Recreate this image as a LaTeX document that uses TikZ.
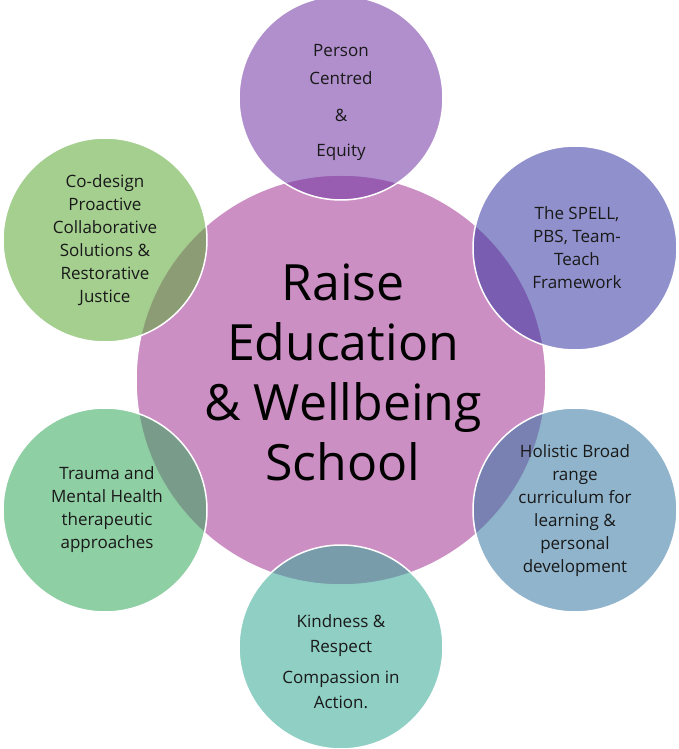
\documentclass[tikz,border=0pt]{standalone}
\usepackage{fontspec}
\setmainfont{Open Sans}
\usepackage{tikz}

\definecolor{hubpink}{RGB}{204,143,196}
\definecolor{personc}{RGB}{111,51,162}
\definecolor{spellc}{RGB}{53,53,162}
\definecolor{holisticc}{RGB}{51,118,162}
\definecolor{kindnessc}{RGB}{51,167,148}
\definecolor{traumac}{RGB}{51,167,89}
\definecolor{codesignc}{RGB}{89,167,51}
\definecolor{inkgray}{RGB}{25,25,25}

\begin{document}
\begin{tikzpicture}[x=1pt, y=1pt]
\tikzstyle{hub}=[circle, fill=hubpink, draw=white, line width=1.5pt, minimum size=410pt, inner sep=0pt]
\tikzstyle{petal}=[circle, draw=white, line width=1.5pt, fill opacity=0.55, minimum size=204pt, inner sep=0pt]
\tikzstyle{petaltext}=[align=center, text=inkgray, inner sep=0pt, font=\fontsize{17}{23}\selectfont]
\useasboundingbox (-341,-369) rectangle (337,380);

% circles
\node[hub]                   (school)   at (0,0)       {};
\node[petal, fill=personc]   (person)   at (0,282)     {};
\node[petal, fill=spellc]    (spell)    at (234,132)   {};
\node[petal, fill=holisticc] (holistic) at (234,-130)  {};
\node[petal, fill=kindnessc] (kindness) at (0,-267)    {};
\node[petal, fill=traumac]   (trauma)   at (-236,-130) {};
\node[petal, fill=codesignc] (codesign) at (-236,140)  {};

% texts
\node[align=center, text=black, inner sep=0pt, font=\fontsize{50}{60}\selectfont] (schooltxt) at (2,8)
  {Raise\\Education\\\&~Wellbeing\\School};
\node[petaltext] (persontxt)   at ([yshift=-4pt]person.center)
  {Person\\[5pt]Centred\\[14pt]\&\\[12pt]Equity};
\node[petaltext] (spelltxt)    at ([xshift=2pt]spell.center)
  {The SPELL,\\PBS, Team-\\Teach\\Framework};
\node[petaltext] (holistictxt) at ([yshift=-1pt]holistic.center)
  {Holistic Broad\\range\\curriculum for\\learning \&\\personal\\development};
\node[petaltext] (kindnesstxt) at ([yshift=-15pt]kindness.center)
  {Kindness \&\\[2pt]Respect\\[8pt]Compassion in\\[2pt]Action.};
\node[petaltext] (traumatxt)   at ([xshift=2pt]trauma.center)
  {Trauma and\\Mental Health\\therapeutic\\approaches};
\node[petaltext] (codesigntxt) at (codesign.center)
  {Co-design\\Proactive\\Collaborative\\Solutions \&\\Restorative\\Justice};
\end{tikzpicture}
\end{document}
